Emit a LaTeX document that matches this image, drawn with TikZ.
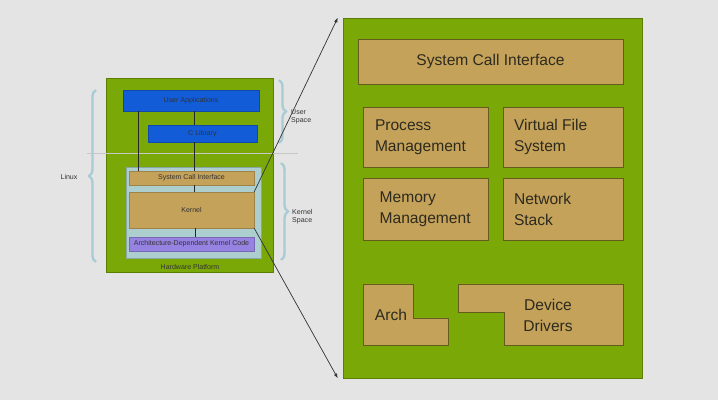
\documentclass[tikz,border=0pt]{standalone}
\usepackage{fontspec}
\setmainfont{Liberation Sans}
\usetikzlibrary{positioning,calc,fit}
\usetikzlibrary{arrows.meta,decorations.pathreplacing}
\definecolor{BackGray}{RGB}{228,228,228}
\definecolor{LeafGreen}{RGB}{122,168,6}
\definecolor{TanFill}{RGB}{197,162,90}
\definecolor{TanEdge}{RGB}{100,92,28}
\definecolor{AppBlue}{RGB}{18,92,215}
\definecolor{KernBlue}{RGB}{172,206,206}
\definecolor{ArchPurple}{RGB}{150,130,225}
\definecolor{BraceBlue}{RGB}{168,204,212}
\definecolor{InkDark}{RGB}{45,42,30}
\tikzset{
  panel/.style={draw=LeafGreen!75!black,fill=LeafGreen,inner sep=0pt},
  tanbox/.style={draw=TanEdge,fill=TanFill,inner sep=0pt,line width=0.8pt,
    text=InkDark,font=\fontsize{13.3}{18}\selectfont,align=left},
  boxtext/.style={tanbox,draw=none,fill=none},
  mini/.style={inner sep=0pt,text=black!80,font=\fontsize{6}{7}\selectfont},
  minibox/.style={mini,draw=#1!80!black,fill=#1,line width=0.4pt},
  link/.style={draw=black!85,line width=0.8pt},
  zoomline/.style={draw=black!80,line width=0.6pt,-{Latex[length=4pt,width=3pt]}},
  brc/.style={draw=BraceBlue,line width=2pt,decorate,
    decoration={brace,amplitude=6pt}},
}

\begin{document}
\begin{tikzpicture}[x=0.03cm,y=-0.03cm]
\useasboundingbox[fill=BackGray] (0,0) rectangle (718,400);
% left overview
\node[panel,fit={(106,78) (273,272)}] (hwp) {};
\node[mini] (hw) at (190,267) {Hardware Platform};
\node[minibox=AppBlue,fit={(123,90) (259,111)}] (ua) {};
\node[mini] at (ua.center) {User Applications};
\node[minibox=AppBlue,fit={(148,125) (257,142)}] (clib) {};
\node[mini] at (clib.center) {C Library};
\draw[black!22,line width=0.5pt] (87,153) -- (298,153);
\node[minibox=KernBlue,fit={(126,167) (261,258)}] (kspace) {};
\node[minibox=TanFill,fit={(129,171) (254,185)}] (lsci) {};
\node[mini] at (lsci.center) {System Call Interface};
\node[minibox=TanFill,fit={(129,192) (254,228)}] (kern) {};
\node[mini] at (kern.center) {Kernel};
\node[minibox=ArchPurple,fit={(129,237) (254,251)}] (adk) {};
\node[mini] at (adk.center) {Architecture-Dependent Kernel Code};
\draw[link] (ua.south -| 138,0) -- (lsci.north -| 138,0);
\draw[link] (ua.south -| 194,0) -- (clib.north -| 194,0);
\draw[link] (clib.south -| 194,0) -- (lsci.north -| 194,0);
\draw[link] (lsci.south -| 194,0) -- (kern.north -| 194,0);
\draw[link] (kern.south -| 195,0) -- (adk.north -| 195,0);
% braces
\draw[brc] (96,262) -- (96,90);
\node[mini] (linux) at (69,177) {Linux};
\draw[brc] (279,80) -- (279,143);
\node[mini,align=left,anchor=west] (us) at (291,117) {User\\Space};
\draw[brc] (281,163) -- (281,260);
\node[mini,align=left,anchor=west] (ks) at (292,217) {Kernel\\Space};
% zoomed kernel
\node[panel,fit={(343,18) (642,378)}] (big) {};
\draw[zoomline] (kern.north east) -- ([xshift=-0.15cm]big.north west);
\draw[zoomline] (kern.south east) -- ([xshift=-0.15cm]big.south west);
\node[tanbox,fit={(358,39) (623,84)}] (sci) {};
\node[boxtext] at (sci.center) {System Call Interface};
\node[tanbox,fit={(363,107) (488,167)}] (pm) {};
\node[boxtext,anchor=west] at ([xshift=0.36cm]pm.west) {Process\\Management};
\node[tanbox,fit={(503,107) (623,167)}] (vfs) {};
\node[boxtext,anchor=west] at ([xshift=0.33cm]vfs.west) {Virtual File\\System};
\node[tanbox,fit={(363,178) (488,240)}] (mm) {};
\node[boxtext,anchor=west] at ([xshift=0.5cm]mm.west) {Memory\\Management};
\node[tanbox,fit={(503,178) (623,240)}] (ns) {};
\node[boxtext,anchor=west] at ([xshift=0.33cm]ns.west) {Network\\Stack};
\draw[tanbox] (363,284) -- (413,284) -- (413,318) -- (448,318) -- (448,345) -- (363,345) -- cycle;
\node[boxtext] (arch) at (391,315) {Arch};
\draw[tanbox] (458,284) -- (623,284) -- (623,345) -- (504,345) -- (504,312) -- (458,312) -- cycle;
\node[boxtext,align=center] (drv) at (548,315) {Device\\Drivers};
\end{tikzpicture}
\end{document}
